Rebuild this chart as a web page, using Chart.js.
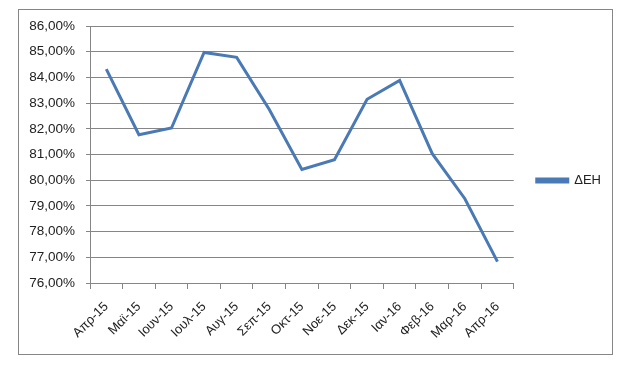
<!DOCTYPE html>
<html>
<head>
<meta charset="utf-8">
<script src="https://cdn.jsdelivr.net/npm/chart.js@4.4.1/dist/chart.umd.min.js"></script>
<style>
html,body{margin:0;padding:0;background:#fff;}
#wrap{width:632px;height:367px;position:relative;}
</style>
</head>
<body>
<div id="wrap"><canvas id="c" width="632" height="367"></canvas></div>
<script>
const categories = ["Απρ-15","Μαϊ-15","Ιουν-15","Ιουλ-15","Αυγ-15","Σεπ-15","Οκτ-15","Νοε-15","Δεκ-15","Ιαν-16","Φεβ-16","Μαρ-16","Απρ-16"];
const seriesName = "ΔΕΗ";
const deiValues = [84.32, 81.77, 82.03, 84.97, 84.78, 82.75, 80.42, 80.80, 83.15, 83.88, 81.03, 79.28, 76.83];
const yMin = 76, yMax = 86, yStep = 1;

const FONT = "'Liberation Sans', Arial, sans-serif";
const GRID = "#868686";
const BLUE = "#4a7ab5";

const borderPlugin = {
  id: 'outerBorder',
  beforeDraw(chart) {
    const ctx = chart.ctx;
    ctx.save();
    ctx.fillStyle = '#fff';
    ctx.fillRect(0, 0, chart.width, chart.height);
    ctx.strokeStyle = GRID;
    ctx.lineWidth = 1;
    ctx.strokeRect(18.5, 9.5, 594, 345);
    ctx.restore();
  },
  afterLayout(chart) {
    if (chart.legend) {
      chart.legend.top -= 9;
      chart.legend.bottom -= 9;
    }
  }
};

new Chart(document.getElementById('c'), {
  type: 'line',
  data: {
    labels: categories,
    datasets: [{
      label: seriesName,
      data: deiValues,
      borderColor: BLUE,
      backgroundColor: BLUE,
      borderWidth: 3,
      pointRadius: 0,
      tension: 0,
      fill: false
    }]
  },
  options: {
    responsive: false,
    animation: false,
    layout: { padding: { left: 20, top: 26, right: 21, bottom: 14 } },
    plugins: {
      legend: {
        position: 'right',
        labels: {
          boxWidth: 31,
          boxHeight: 3,
          padding: 23,
          color: '#222',
          font: { family: FONT, size: 13 }
        }
      },
      tooltip: { enabled: false }
    },
    scales: {
      x: {
        offset: true,
        afterFit(s) { s.height = 70; },
        grid: { drawOnChartArea: false, drawTicks: true, tickLength: 6, color: GRID, offset: true },
        border: { color: GRID, width: 1 },
        ticks: {
          minRotation: 45, maxRotation: 45, autoSkip: false,
          padding: 10,
          color: '#222',
          font: { family: FONT, size: 13 }
        }
      },
      y: {
        min: yMin, max: yMax,
        afterFit(s) { s.width = 70; },
        grid: { color: GRID, tickLength: 4, lineWidth: 1 },
        border: { color: GRID, width: 1 },
        ticks: {
          stepSize: yStep,
          padding: 11,
          color: '#222',
          font: { family: FONT, size: 13.5 },
          callback: v => v.toFixed(2).replace('.', ',') + '%'
        }
      }
    }
  },
  plugins: [borderPlugin]
});
</script>
</body>
</html>
